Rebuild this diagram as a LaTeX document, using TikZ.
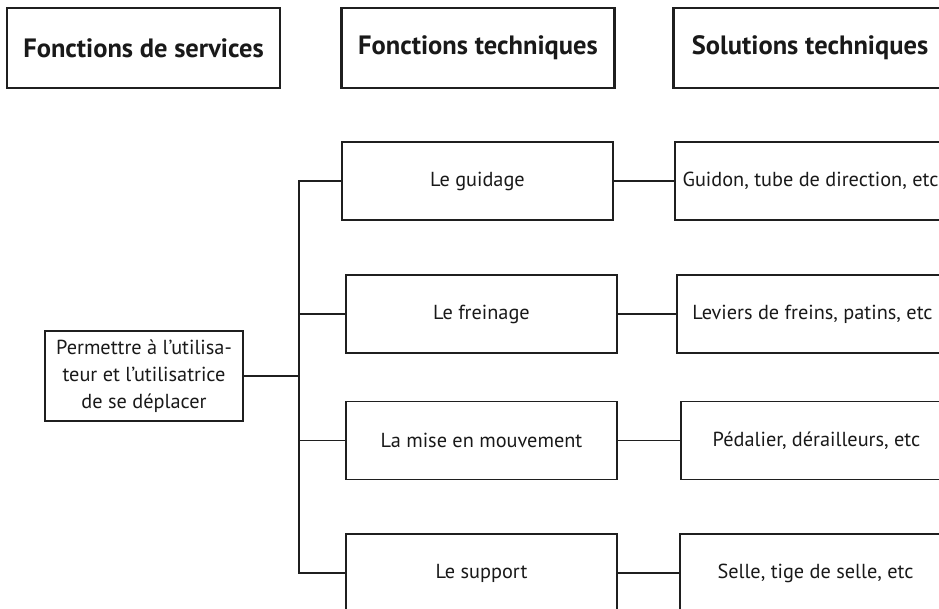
\documentclass[tikz,border=0pt]{standalone}
\usepackage{fontspec}
\setmainfont{PT Sans}
\begin{document}
\begin{tikzpicture}[x=1pt,y=-1pt,
  ink/.style={draw=black!88, line width=1.3pt},
  head/.style={ink, line width=2.8pt, minimum width=273pt, minimum height=80pt, inner sep=0pt, font=\fontsize{26.5}{30}\selectfont\bfseries, text=black!90},
  box/.style={ink, minimum width=271pt, minimum height=78pt, inner sep=0pt, font=\fontsize{20.3}{24}\selectfont, text=black!90},
  lbox/.style={ink, minimum width=198pt, minimum height=90pt, inner sep=0pt, align=center, font=\fontsize{20.3}{27}\selectfont, text=black!90},
  conn/.style={ink}]
\useasboundingbox (0,0) rectangle (939,609);
\clip (0,0) rectangle (939,609);
% headers
\node[head] (h1) at (143.5,48) {Fonctions de services};
\node[head] (h2) at (478,48) {Fonctions techniques};
\node[head] (h3) at (810,48) {Solutions techniques};
% left box
\node[lbox] (lb) at (144,376) {Permettre à l’utilisa-\\teur et l’utilisatrice\\de se déplacer};
% middle boxes
\node[box] (g) at (477.5,181) {Le guidage};
\node[box] (f) at (481.5,314) {Le freinage};
\node[box] (m) at (481.5,440.5) {La mise en mouvement};
\node[box] (s) at (481.5,573) {Le support};
% right boxes
\node[box] (rg) at (810.5,181) {Guidon, tube de direction, etc};
\node[box] (rf) at (812.5,314) {Leviers de freins, patins, etc};
\node[box] (rm) at (816.5,440.5) {Pédalier, dérailleurs, etc};
\node[box] (rs) at (815.5,573) {Selle, tige de selle, etc};
% trunk
\coordinate (tt) at (299,181);
\coordinate (tb) at (299,573);
\draw[conn] (g.west) -- (tt) -- (tb) -- (s.west);
\draw[conn] (f.west) -- (f.west -| tt);
\draw[conn] (m.west) -- (m.west -| tt);
\draw[conn] (lb.east) -- (lb.east -| tt);
% middle to right
\draw[conn] (g.east) -- (rg.west);
\draw[conn] (f.east) -- (rf.west);
\draw[conn] (m.east) -- (rm.west);
\draw[conn] (s.east) -- (rs.west);
\end{tikzpicture}
\end{document}
